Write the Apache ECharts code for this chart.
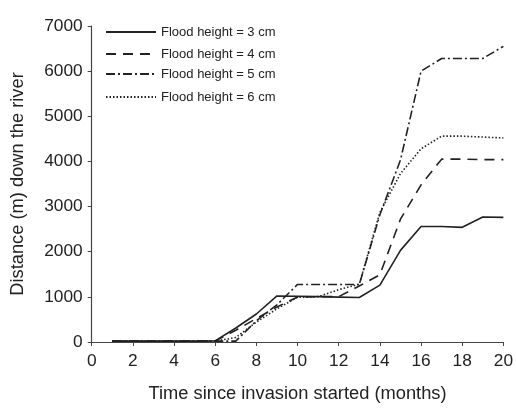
<!DOCTYPE html>
<html>
<head>
<meta charset="utf-8">
<script src="https://cdn.jsdelivr.net/npm/echarts@6/dist/echarts.min.js"></script>
<style>
html,body{margin:0;padding:0;background:#fff;overflow:hidden;}
#main{width:516px;height:408px;}
</style>
</head>
<body>
<div id="main"></div>
<script>
var months = [1,2,3,4,5,6,7,8,9,10,11,12,13,14,15,16,17,18,19,20];
var seriesNames = ['Flood height = 3 cm','Flood height = 4 cm','Flood height = 5 cm','Flood height = 6 cm'];
var flood3 = [20,20,20,20,20,25,310,620,1020,1015,1005,995,985,1260,2030,2560,2560,2540,2770,2760];
var flood4 = [20,20,20,20,20,25,260,520,775,995,1005,1005,1240,1490,2720,3480,4050,4050,4040,4040];
var flood5 = [20,20,20,20,20,20,20,470,825,1275,1275,1275,1275,2820,4030,6000,6280,6280,6280,6550];
var flood6 = [20,20,20,20,20,20,100,440,735,990,1005,1160,1280,2870,3730,4280,4560,4560,4540,4520];
var xTicks = [0,2,4,6,8,10,12,14,16,18,20];
var yTicks = [0,1000,2000,3000,4000,5000,6000,7000];

function pairs(arr){ return months.map(function(m,i){ return [m, arr[i]]; }); }

var ink = '#222';
var dashTypes = ['solid', [10,7], [9,3,2,3], [1.5,2]];
var datas = [flood3, flood4, flood5, flood6];
var legendTops = [25.5, 47.5, 67.5, 90.5];
var FONT = 'Liberation Sans, Arial, sans-serif';

var chart = echarts.init(document.getElementById('main'), null, {renderer:'canvas', width:516, height:408});
var option = {
  animation: false,
  backgroundColor: '#fff',
  textStyle: {fontFamily: FONT},
  grid: {left: 91.7, width: 412.6, top: 26, height: 323.3},
  legend: seriesNames.map(function(n, i){
    return {
      show: true,
      data: [n],
      left: 105, top: legendTops[i],
      itemWidth: 50, itemHeight: 12, itemGap: 8,
      padding: 0,
      itemStyle: {color: 'rgba(0,0,0,0)', borderWidth: 0},
      textStyle: {fontSize: 13, color: ink, fontFamily: FONT}
    };
  }),
  xAxis: {
    type: 'value', min: 0, max: 20, interval: 2,
    name: 'Time since invasion started (months)',
    nameLocation: 'middle', nameGap: 43,
    nameTextStyle: {fontSize: 18.3, color: ink},
    axisLine: {lineStyle: {color: '#444', width: 1.2}},
    axisTick: {show: true, length: 4, lineStyle: {color: '#444'}},
    axisLabel: {fontSize: 17.3, color: ink, margin: 11,
      formatter: function(v){ return xTicks.indexOf(v) >= 0 ? String(v) : ''; }},
    splitLine: {show: false}
  },
  yAxis: {
    type: 'value', min: 0, max: 7000, interval: 1000,
    name: 'Distance (m) down the river',
    nameLocation: 'middle', nameGap: 65, nameRotate: 90,
    nameTextStyle: {fontSize: 18.3, color: ink},
    axisLine: {show: true, lineStyle: {color: '#444', width: 1.2}},
    axisTick: {show: true, length: 4, lineStyle: {color: '#444'}},
    axisLabel: {fontSize: 17.3, color: ink, margin: 9,
      formatter: function(v){ return yTicks.indexOf(v) >= 0 ? String(v) : ''; }},
    splitLine: {show: false}
  },
  series: seriesNames.map(function(n, i){
    return {
      name: n, type: 'line', data: pairs(datas[i]),
      showSymbol: false, symbol: 'none',
      lineStyle: {width: 1.6, color: ink, type: dashTypes[i]},
      itemStyle: {color: ink}
    };
  })
};
chart.setOption(option);
</script>
</body>
</html>
